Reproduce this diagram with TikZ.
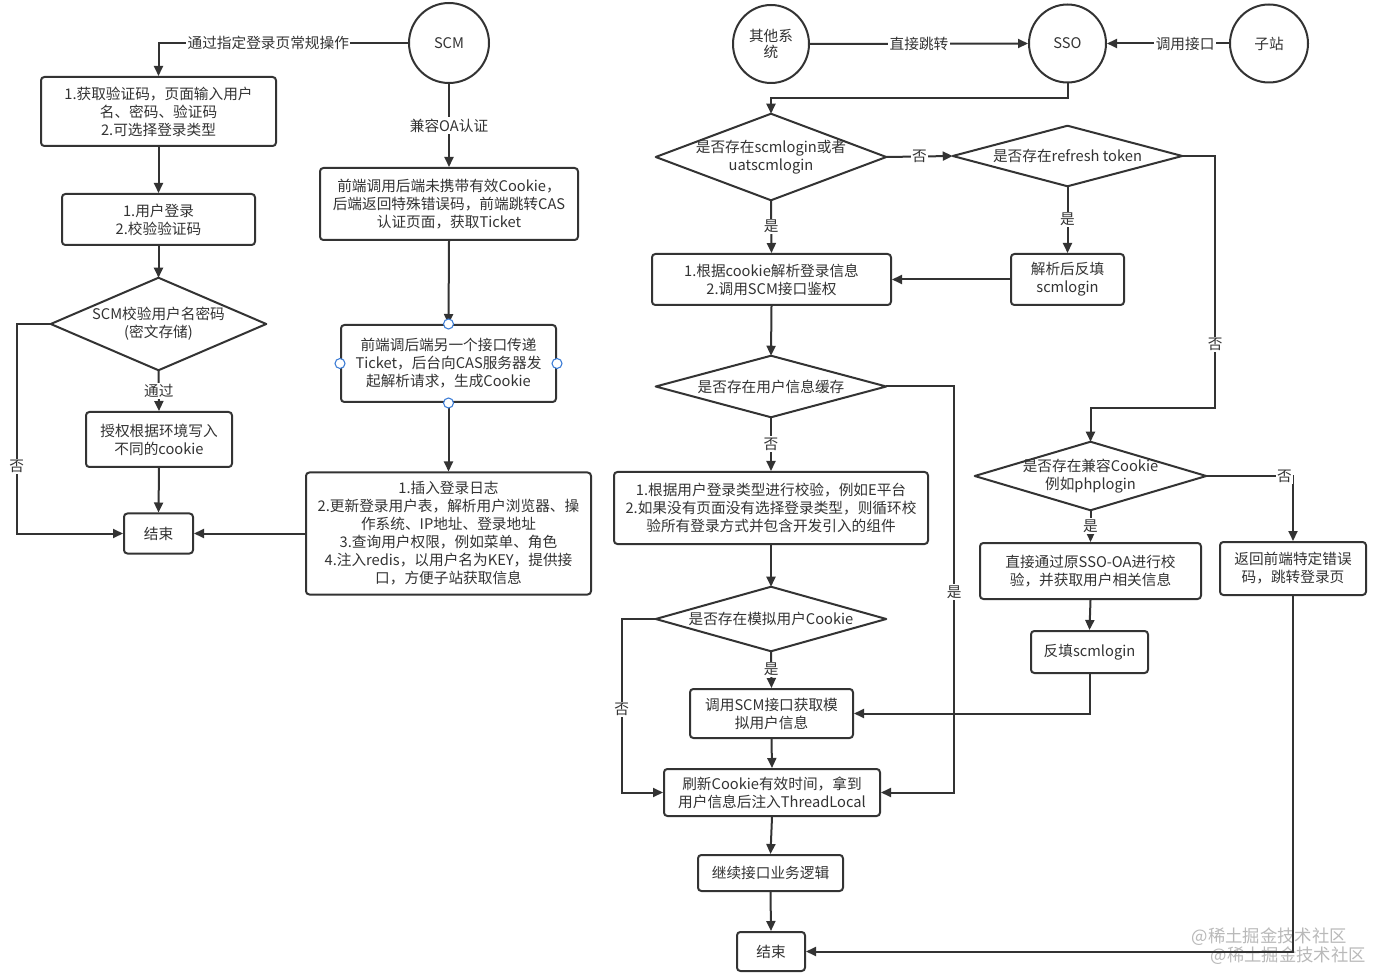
\documentclass[tikz,border=0pt]{standalone}
\usepackage{fontspec}
\setmainfont{Noto Sans CJK SC}
\usetikzlibrary{arrows.meta,calc,shapes.geometric}
\definecolor{ink}{HTML}{333333}
\definecolor{hdl}{HTML}{3A7BD5}
\newcommand\drawdia[1]{\draw[ln] (#1.north) -- (#1.east) -- (#1.south) -- (#1.west) -- cycle;}
\begin{document}
\begin{tikzpicture}[x=0.75pt,y=-0.75pt,
  every node/.style={text=ink, font=\fontsize{11}{13.5}\selectfont},
  ln/.style={draw=ink, line width=1.5pt, line join=round},
  box/.style={ln, rounded corners=2.5pt, align=center, inner sep=0pt},
  ell/.style={ln, ellipse, align=center, inner sep=0pt},
  dia/.style={align=center, inner sep=0pt},
  arr/.style={draw=ink, line width=1.5pt, -{Triangle[length=7.5pt,width=6.75pt]}},
  cn/.style={draw=ink, line width=1.5pt},
  lab/.style={fill=white, inner sep=1pt},
  hd/.style={circle, draw=hdl, fill=white, line width=0.8pt, minimum size=7.5pt, inner sep=0pt},
  wm/.style={text=gray!55, font=\fontsize{13}{15}\selectfont}
]
\useasboundingbox (0,0) rectangle (1375,973);
\fill[white] (0,0) rectangle (1375,973);

% ---------- left part ----------
\node[ell, minimum width=60pt, minimum height=60pt] (scm) at (449,43) {SCM};
\node[box, minimum width=176.25pt, minimum height=51.75pt] (b1) at (158.5,111.5) {1.获取验证码，页面输入用户\\名、密码、验证码\\2.可选择登录类型};
\node[box, minimum width=144.75pt, minimum height=38.25pt] (b2) at (158.5,219.5) {1.用户登录\\2.校验验证码};
\node[dia, minimum width=161.25pt, minimum height=69pt] (d1) at (158.5,324) {SCM校验用户名密码\\(密文存储)};
\drawdia{d1}
\node[box, minimum width=109.5pt, minimum height=41.25pt] (b3) at (159,439.5) {授权根据环境写入\\不同的cookie};
\node[box, minimum width=51.75pt, minimum height=30pt] (e1) at (158.5,533.5) {结束};
\node[box, minimum width=193.5pt, minimum height=54pt] (b4) at (449,204) {前端调用后端未携带有效Cookie，\\后端返回特殊错误码，前端跳转CAS\\认证页面，获取Ticket};
\node[box, minimum width=161.25pt, minimum height=57.75pt] (b5) at (448.5,363.5) {前端调后端另一个接口传递\\Ticket，后台向CAS服务器发\\起解析请求，生成Cookie};
\node[box, minimum width=213.75pt, minimum height=91.5pt] (b6) at (448.5,533.5) {1.插入登录日志\\2.更新登录用户表，解析用户浏览器、操\\作系统、IP地址、登录地址\\3.查询用户权限，例如菜单、角色\\4.注入redis，以用户名为KEY，提供接\\口，方便子站获取信息};

\draw[arr] (scm.west) -| node[lab, pos=0.28] {通过指定登录页常规操作} (b1.north);
\draw[arr] (b1.south) -- (b2.north);
\draw[arr] (b2.south) -- (d1.north);
\draw[arr] (d1.south) -- node[lab] {通过} (b3.north);
\draw[arr] (b3.south) -- (e1.north);
\draw[arr] (d1.west) -- ++(-34,0) |- node[lab, pos=0.34] {否} (e1.west);
\draw[arr] (scm.south) -- node[lab] {兼容OA认证} (b4.north);
\draw[arr] (b4.south) -- (b5.north);
\draw[arr] (b5.south) -- (b6.north);
\draw[arr] (b6.west) -- (e1.east);

\node[hd] (h1) at (b5.north) {};
\node[hd] (h2) at (b5.south) {};
\node[hd] (h3) at (b5.west) {};
\node[hd] (h4) at (b5.east) {};

% ---------- right part ----------
\node[ell, minimum width=57pt, minimum height=58.5pt] (oth) at (771,44) {其他系\\[-1pt]统};
\node[ell, minimum width=57.75pt, minimum height=58.5pt] (sso) at (1067.5,43.5) {SSO};
\node[ell, minimum width=58.5pt, minimum height=58.5pt] (sub) at (1269,43.5) {子站};
\node[dia, minimum width=172.5pt, minimum height=64.5pt] (d2) at (771,157) {是否存在scmlogin或者\\uatscmlogin};
\drawdia{d2}
\node[dia, minimum width=171.75pt, minimum height=45pt] (d3) at (1067.5,156) {是否存在refresh token};
\drawdia{d3}
\node[box, minimum width=179.25pt, minimum height=38.25pt] (b7) at (771.5,279.5) {1.根据cookie解析登录信息\\2.调用SCM接口鉴权};
\node[box, minimum width=84.75pt, minimum height=38.25pt] (b8) at (1067.5,279.5) {解析后反填\\scmlogin};
\node[dia, minimum width=172.5pt, minimum height=45.75pt] (d5) at (771,386.5) {是否存在用户信息缓存};
\drawdia{d5}
\node[box, minimum width=235.5pt, minimum height=54pt] (b9) at (771,508) {1.根据用户登录类型进行校验，例如E平台\\2.如果没有页面没有选择登录类型，则循环校\\验所有登录方式并包含开发引入的组件};
\node[dia, minimum width=172.5pt, minimum height=48pt] (d6) at (771,619) {是否存在模拟用户Cookie};
\drawdia{d6}
\node[box, minimum width=122.25pt, minimum height=36.75pt] (b10) at (771.5,713.5) {调用SCM接口获取模\\拟用户信息};
\node[box, minimum width=162pt, minimum height=35.25pt] (b11) at (772,792.5) {刷新Cookie有效时间，拿到\\用户信息后注入ThreadLocal};
\node[box, minimum width=108.75pt, minimum height=27pt] (b12) at (770.5,873) {继续接口业务逻辑};
\node[box, minimum width=51pt, minimum height=29.25pt] (e2) at (771,951.5) {结束};
\node[dia, minimum width=173.25pt, minimum height=51pt] (d4) at (1090.5,476) {是否存在兼容Cookie\\例如phplogin};
\drawdia{d4}
\node[box, minimum width=109.5pt, minimum height=39.75pt] (b13) at (1293,568.5) {返回前端特定错误\\码，跳转登录页};
\node[box, minimum width=165.75pt, minimum height=42pt] (b14) at (1090.5,571) {直接通过原SSO-OA进行校\\验，并获取用户相关信息};
\node[box, minimum width=87.75pt, minimum height=31.5pt] (b15) at (1089.5,652) {反填scmlogin};

% watermark
\node[wm, anchor=west] (wm1) at (1187,937) {@稀土掘金技术社区};
\node[wm, anchor=west] (wm2) at (1206,956) {@稀土掘金技术社区};

\draw[arr] (oth.east) -- node[lab] {直接跳转} (sso.west);
\draw[arr] (sub.west) -- node[lab, pos=0.36] {调用接口} (sso.east);
\draw[arr] (sso.south) -- ++(0,15) -| (d2.north);
\draw[arr] (d2.east) -- node[lab] {否} (d3.west);
\draw[arr] (d2.south) -- node[lab] {是} (b7.north);
\draw[arr] (d3.south) -- node[lab] {是} (b8.north);
\draw[arr] (b8.west) -- (b7.east);
\draw[arr] (d3.east) -- ++(33,0) |- node[lab, pos=0.375] {否} ($(d4.north)+(0,-34)$) -- (d4.north);
\draw[arr] (b7.south) -- (d5.north);
\draw[arr] (d5.south) -- node[lab] {否} (b9.north);
\draw[arr] (d5.east) -- ++(68,0) |- node[lab, pos=0.253] {是} (b11.east);
\draw[arr] (b9.south) -- (d6.north);
\draw[arr] (d6.south) -- node[lab] {是} (b10.north);
\draw[arr] (d6.west) -- ++(-34,0) |- node[lab, pos=0.26] {否} (b11.west);
\draw[arr] (b10.south) -- (b11.north);
\draw[arr] (b11.south) -- (b12.north);
\draw[arr] (b12.south) -- (e2.north);
\draw[arr] (d4.east) -| node[lab, pos=0.45] {否} (b13.north);
\draw[arr] (d4.south) -- node[lab] {是} (b14.north);
\draw[arr] (b14.south) -- (b15.north);
\draw[arr] (b15.south) |- (b10.east);
\draw[arr] (b13.south) |- (e2.east);
\end{tikzpicture}
\end{document}
